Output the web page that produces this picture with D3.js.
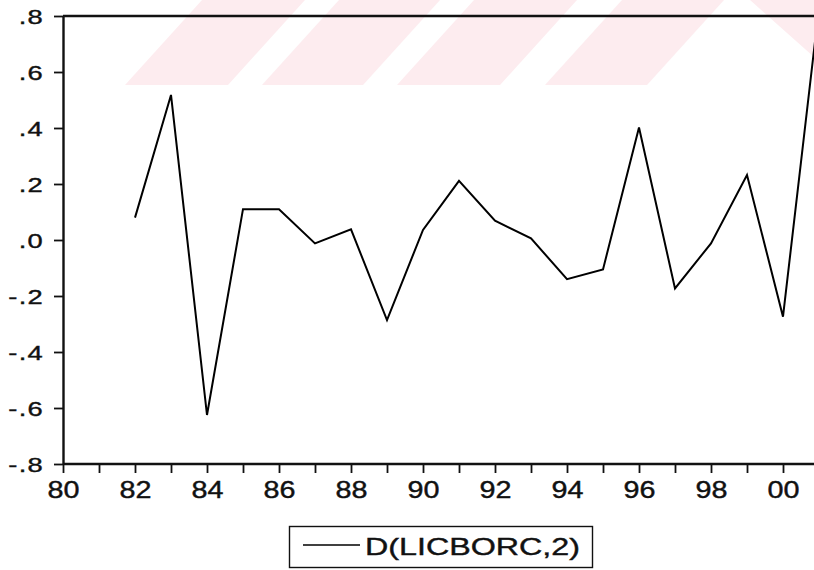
<!DOCTYPE html>
<html>
<head>
<meta charset="utf-8">
<script src="https://cdn.jsdelivr.net/npm/d3@7"></script>
<style>
  html, body { margin: 0; padding: 0; background: #fff; }
  svg { display: block; }
  text { font-family: "Liberation Sans", Arial, sans-serif; fill: #111; stroke: #111; stroke-width: 0.4px; }
</style>
</head>
<body>
<svg id="chart" width="814" height="570"></svg>
<script>
// Second difference of LICBORC, annual
const years  = [1982, 1983, 1984, 1985, 1986, 1987, 1988, 1989, 1990, 1991,
                1992, 1993, 1994, 1995, 1996, 1997, 1998, 1999, 2000, 2001];
const values = [0.080, 0.518, -0.625, 0.110, 0.110, -0.012, 0.038, -0.286, 0.036, 0.211,
                0.069, 0.006, -0.140, -0.105, 0.402, -0.173, -0.012, 0.232, -0.274, 0.832];

const yTicks      = [0.8, 0.6, 0.4, 0.2, 0.0, -0.2, -0.4, -0.6, -0.8];
const yTickLabels = [".8", ".6", ".4", ".2", ".0", "-.2", "-.4", "-.6", "-.8"];
const xTicks      = [1980, 1981, 1982, 1983, 1984, 1985, 1986, 1987, 1988, 1989, 1990,
                     1991, 1992, 1993, 1994, 1995, 1996, 1997, 1998, 1999, 2000];
const xTickLabels = ["80", "", "82", "", "84", "", "86", "", "88", "", "90",
                     "", "92", "", "94", "", "96", "", "98", "", "00"];
const seriesName  = "D(LICBORC,2)";

const svg = d3.select("#chart");
const plotL = 63, plotR = 819, plotT = 16, plotB = 464;

svg.append("rect").attr("width", 814).attr("height", 570).attr("fill", "#fff");

// faint diagonal band across the top
const band = svg.append("g").attr("fill", "#fdecef");
const bandH = 85, slant = 77;
[[125, 228], [262, 363], [397, 500], [545, 647]].forEach(([a, b]) => {
  band.append("path").attr("d",
    `M${a},${bandH} L${b},${bandH} L${b + slant},0 L${a + slant},0 Z`);
});
band.append("path").attr("d", "M750,0 L814,0 L814,57 Z");

const x = d3.scaleLinear().domain([1980, 2001]).range([plotL, plotR]);
const y = d3.scaleLinear().domain([-0.8, 0.8]).range([plotB, plotT]);

// y axis
const sxY = 1.3;
const yAxis = svg.append("g")
  .attr("transform", `translate(${plotL},0)`)
  .call(d3.axisLeft(y)
    .tickValues(yTicks)
    .tickSize(9)
    .tickSizeOuter(0)
    .tickFormat((d, i) => yTickLabels[i]));
yAxis.select(".domain").attr("stroke", "#111").attr("stroke-width", 2.4);
yAxis.selectAll(".tick line").attr("stroke", "#111").attr("stroke-width", 1.8);
yAxis.selectAll(".tick text")
  .attr("font-size", 21)
  .attr("letter-spacing", 1)
  .attr("x", -19 / sxY)
  .attr("dy", "0.36em")
  .attr("transform", `scale(${sxY},1)`)
  .attr("fill", "#111");

// x axis
const sxX = 1.25;
const xAxis = svg.append("g")
  .attr("transform", `translate(0,${plotB})`)
  .call(d3.axisBottom(x)
    .tickValues(xTicks)
    .tickSize(9)
    .tickSizeOuter(0)
    .tickFormat((d, i) => xTickLabels[i]));
xAxis.select(".domain").attr("stroke", "#111").attr("stroke-width", 2.4)
  .attr("d", `M${plotL},0H814`);
xAxis.selectAll(".tick line").attr("stroke", "#111").attr("stroke-width", 1.8);
xAxis.selectAll(".tick text")
  .attr("font-size", 23)
  .attr("y", 34)
  .attr("dy", 0)
  .attr("transform", `scale(${sxX},1)`)
  .attr("fill", "#111");

// top frame line
svg.append("line")
  .attr("x1", plotL).attr("x2", plotR)
  .attr("y1", plotT).attr("y2", plotT)
  .attr("stroke", "#111").attr("stroke-width", 2.4);

// series
const line = d3.line()
  .x((d, i) => x(years[i]))
  .y(d => y(d));
svg.append("path")
  .datum(values)
  .attr("d", line)
  .attr("fill", "none")
  .attr("stroke", "#000")
  .attr("stroke-width", 2)
  .attr("stroke-linejoin", "miter");

// legend
const lg = svg.append("g");
lg.append("rect")
  .attr("x", 289.5).attr("y", 526.5)
  .attr("width", 303).attr("height", 41)
  .attr("fill", "#fff").attr("stroke", "#111").attr("stroke-width", 1.4);
lg.append("line")
  .attr("x1", 303).attr("x2", 360)
  .attr("y1", 545).attr("y2", 545)
  .attr("stroke", "#000").attr("stroke-width", 1.6);
lg.append("text")
  .attr("x", 365).attr("y", 555)
  .attr("font-size", 24)
  .attr("textLength", 215)
  .attr("lengthAdjust", "spacingAndGlyphs")
  .text(seriesName);
</script>
</body>
</html>
